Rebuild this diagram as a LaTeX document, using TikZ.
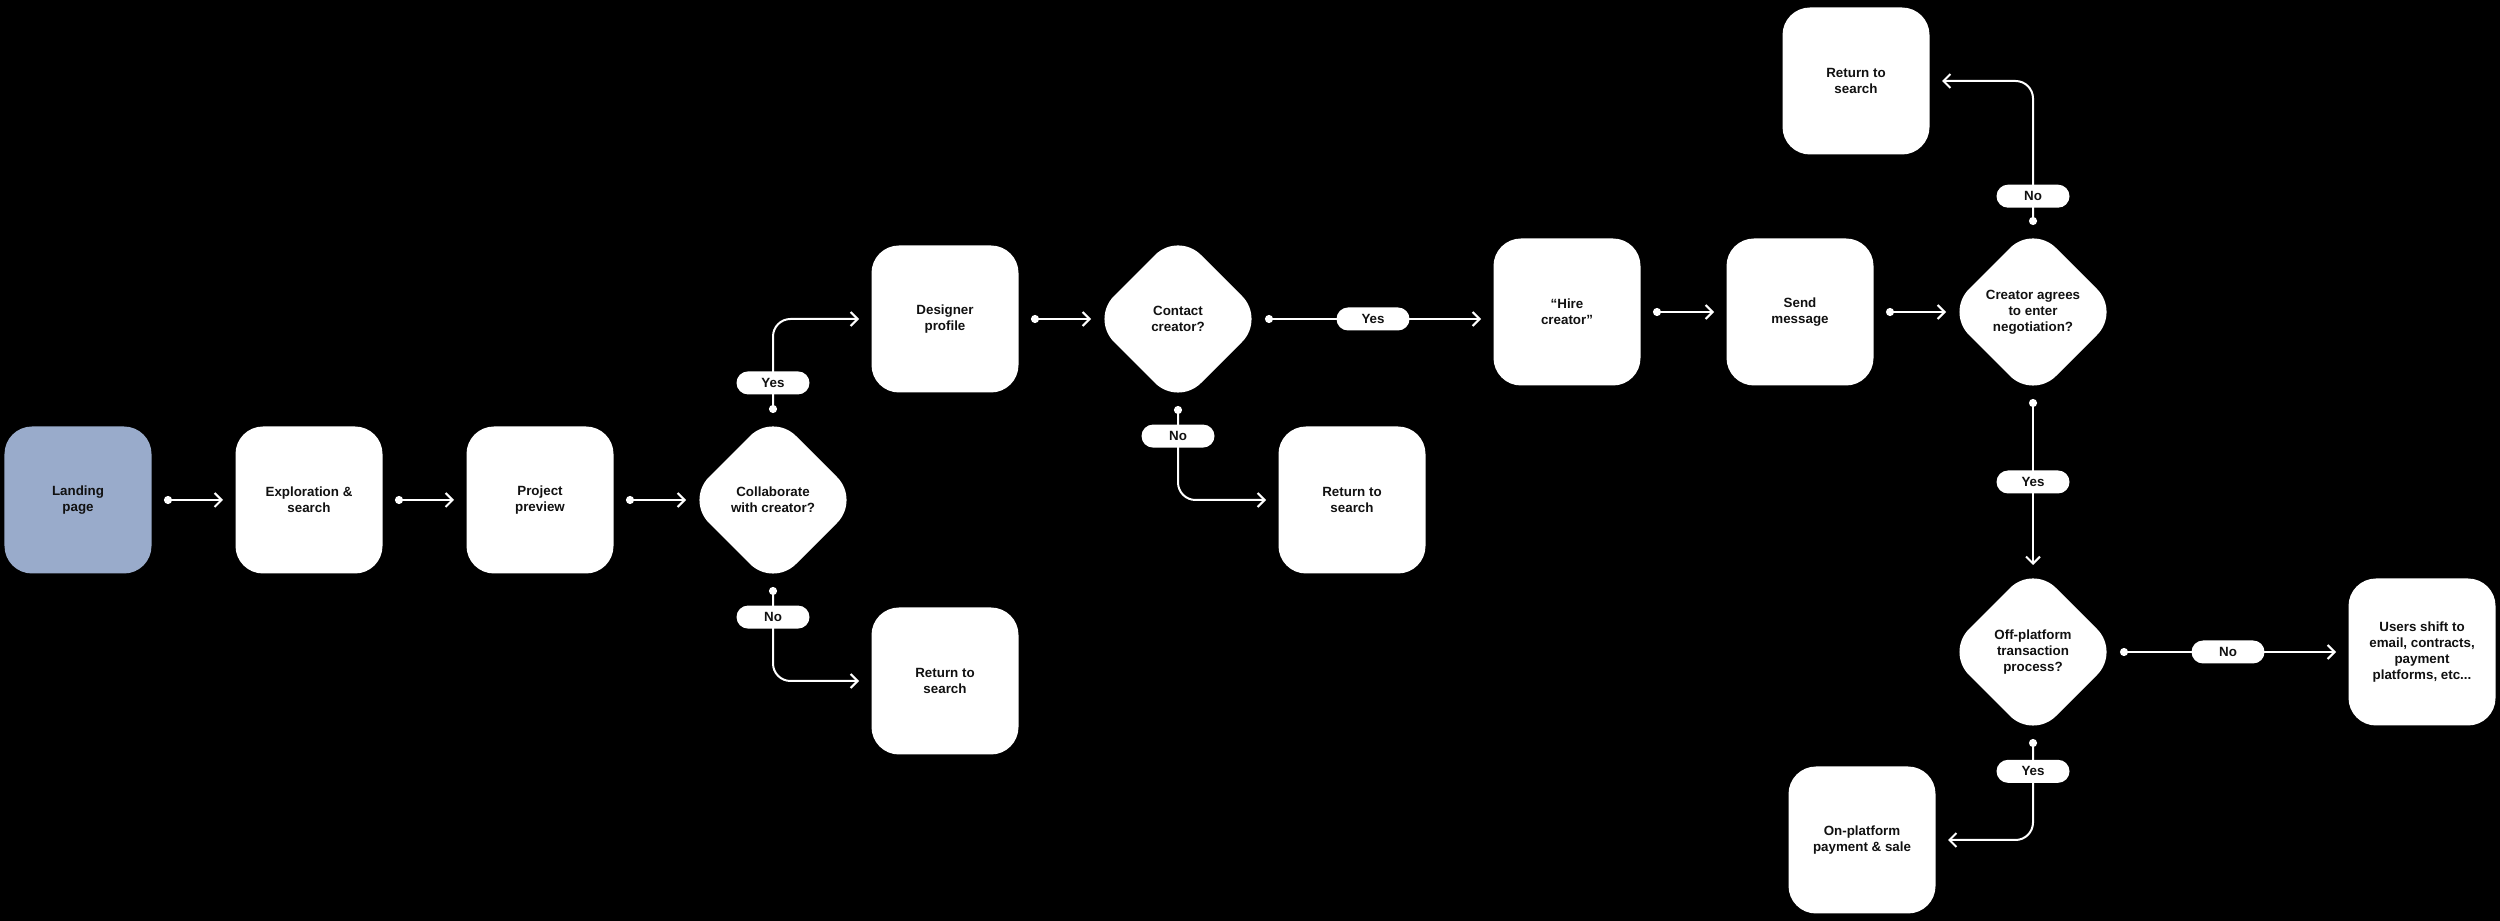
\documentclass[tikz,border=0pt]{standalone}
\usepackage{fontspec}
\setmainfont{Liberation Sans}
\usetikzlibrary{shapes.geometric,arrows.meta}
\definecolor{landblue}{HTML}{99ABCB}
\definecolor{inkblack}{HTML}{111111}

\begin{document}
\begin{tikzpicture}[
  labelfont/.style={text=inkblack, font=\fontsize{7.6}{9.2}\selectfont\bfseries},
  stepbox/.style={labelfont, fill=white, rounded corners=0.55cm, minimum width=2.94cm, minimum height=2.94cm, align=center, outer sep=0.25cm},
  choice/.style={labelfont, diamond, fill=white, rounded corners=0.65cm, minimum width=3.48cm, minimum height=3.48cm, inner sep=0pt, outer sep=0pt, align=center},
  pill/.style={labelfont, fill=white, rounded corners=0.23cm, minimum width=1.46cm, minimum height=0.46cm, inner sep=0pt},
  flow/.style={draw=white, line width=0.04cm, rounded corners=0.35cm, {Circle[length=0.16cm]}-{Straight Barb[length=0.14cm,width=0.28cm]}}
]
\fill[black] (0,0) rectangle (50,18.42);
\useasboundingbox (0,0) rectangle (50,18.42);

\node[stepbox, fill=landblue] (land) at (1.56,8.42) {Landing\\page};
\node[stepbox] (explore) at (6.18,8.42) {Exploration \&\\search};
\node[stepbox] (preview) at (10.80,8.42) {Project\\preview};
\node[choice] (collab) at (15.46,8.42) {Collaborate\\with creator?};
\node[stepbox] (profile) at (18.90,12.04) {Designer\\profile};
\node[stepbox] (ret1) at (18.90,4.80) {Return to\\search};
\node[choice] (contact) at (23.56,12.04) {Contact\\creator?};
\node[stepbox] (ret2) at (27.04,8.42) {Return to\\search};
\node[stepbox] (hire) at (31.34,12.18) {“Hire\\creator”};
\node[stepbox] (send) at (36.00,12.18) {Send\\message};
\node[choice] (agree) at (40.66,12.18) {Creator agrees\\to enter\\negotiation?};
\node[stepbox] (ret3) at (37.12,16.80) {Return to\\search};
\node[choice] (offp) at (40.66,5.38) {Off-platform\\transaction\\process?};
\node[stepbox] (users) at (48.44,5.38) {Users shift to\\email, contracts,\\payment\\platforms, etc...};
\node[stepbox] (onp) at (37.24,1.62) {On-platform\\payment \& sale};

\draw[flow] (land.east) -- (explore.west);
\draw[flow] (explore.east) -- (preview.west);
\draw[flow] (preview.east) -- (collab.west);
\draw[flow] (collab.north) |- (profile.west) node[pill, pos=0.16] {Yes};
\draw[flow] (collab.south) |- (ret1.west) node[pill, pos=0.16] {No};
\draw[flow] (profile.east) -- (contact.west);
\draw[flow] (contact.east) -- (contact.east -| hire.west) node[pill, midway] {Yes};
\draw[flow] (contact.south) |- (ret2.west) node[pill, pos=0.16] {No};
\draw[flow] (hire.east) -- (send.west);
\draw[flow] (send.east) -- (agree.west);
\draw[flow] (agree.north) |- (ret3.east) node[pill, pos=0.1] {No};
\draw[flow] (agree.south) -- (offp.north) node[pill, midway] {Yes};
\draw[flow] (offp.east) -- (users.west) node[pill, midway] {No};
\draw[flow] (offp.south) |- (onp.east) node[pill, pos=0.16] {Yes};
\end{tikzpicture}
\end{document}
